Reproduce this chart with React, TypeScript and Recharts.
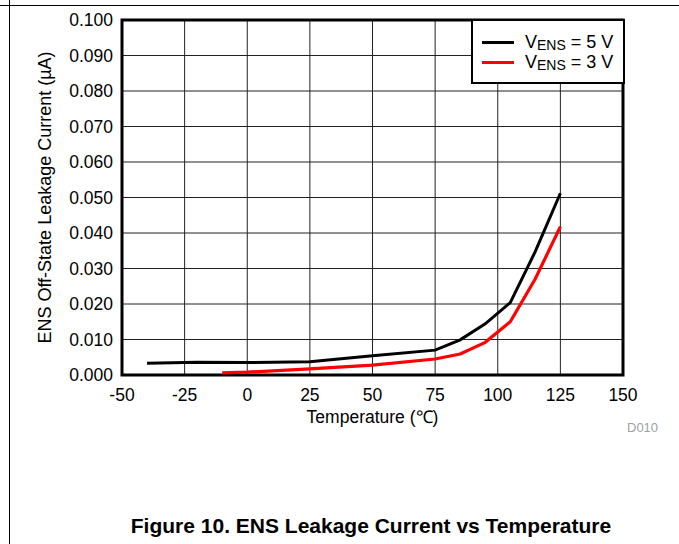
import { LineChart, Line, XAxis, YAxis, CartesianGrid, ReferenceArea } from 'recharts';

// temperature (°C) and leakage current (µA)
const temps5V = [-40, -20, 0, 25, 50, 75, 85, 95, 105, 115, 125];
const leak5V = [0.0033, 0.0036, 0.0035, 0.0037, 0.0054, 0.007, 0.0099, 0.0144, 0.0204, 0.0348, 0.0512];

const temps3V = [-10, 0, 25, 50, 75, 85, 95, 105, 115, 125];
const leak3V = [0.0006, 0.0008, 0.0017, 0.0028, 0.0045, 0.0059, 0.0092, 0.015, 0.0271, 0.0418];

const xTicks = [-50, -25, 0, 25, 50, 75, 100, 125, 150];
const yTicks = [0, 0.01, 0.02, 0.03, 0.04, 0.05, 0.06, 0.07, 0.08, 0.09, 0.1];

const series5V = temps5V.map((t, i) => ({ t, v: leak5V[i] }));
const series3V = temps3V.map((t, i) => ({ t, v: leak3V[i] }));

const FONT = '"Liberation Sans", Arial, sans-serif';

function LegendBox() {
    const row = (color: string, volts: string) => (
        <div style={{ display: 'flex', alignItems: 'center', height: 20 }}>
            <div style={{ width: 32, height: 3, background: color, marginRight: 11 }} />
            <span style={{ fontSize: 18, lineHeight: '20px' }}>
                V<sub style={{ fontSize: 14, verticalAlign: '-2px', lineHeight: 0 }}>ENS</sub> = {volts} V
            </span>
        </div>
    );
    return (
        <div
            style={{
                position: 'absolute',
                left: 471,
                top: 19,
                width: 154,
                height: 65,
                border: '2.5px solid #000',
                background: '#fff',
                boxSizing: 'border-box',
                paddingTop: 11,
                paddingLeft: 9,
                fontFamily: FONT,
                color: '#000',
            }}
        >
            {row('#000', '5')}
            {row('#ff0000', '3')}
        </div>
    );
}

export default function App() {
    return (
        <div style={{ position: 'absolute', left: 0, top: 0, width: 679, height: 544, background: '#fff', fontFamily: FONT }}>
            <div style={{ position: 'absolute', left: 0, top: 5, width: 679, height: 1, background: '#000' }} />
            <div style={{ position: 'absolute', left: 9, top: 0, width: 1, height: 544, background: '#000' }} />

            <LineChart
                width={679}
                height={544}
                margin={{ top: 20, right: 56, left: 30, bottom: 119 }}
                style={{ position: 'absolute', left: 0, top: 0 }}
            >
                <CartesianGrid stroke="#222" strokeWidth={1} />
                <XAxis
                    type="number"
                    dataKey="t"
                    domain={[-50, 150]}
                    ticks={xTicks}
                    allowDataOverflow
                    height={50}
                    tickLine={false}
                    axisLine={false}
                    tickMargin={8}
                    tick={{ fill: '#000', fontSize: 17.5, fontFamily: FONT }}
                    label={{ value: 'Temperature  (℃)', position: 'insideTop', offset: 36, fill: '#000', fontSize: 17.5, fontFamily: FONT }}
                />
                <YAxis
                    type="number"
                    domain={[0, 0.1]}
                    ticks={yTicks}
                    width={92}
                    tickLine={false}
                    axisLine={false}
                    tickMargin={3}
                    tickFormatter={(v: number) => v.toFixed(3)}
                    tick={{ fill: '#000', fontSize: 17.5, fontFamily: FONT }}
                    label={{
                        value: 'ENS Off-State Leakage Current  (µA)',
                        angle: -90,
                        position: 'insideLeft',
                        offset: 15,
                        fill: '#000',
                        fontSize: 18,
                        fontFamily: FONT,
                        style: { textAnchor: 'middle' },
                    }}
                />
                <Line
                    data={series5V}
                    dataKey="v"
                    type="linear"
                    stroke="#000"
                    strokeWidth={3}
                    dot={false}
                    isAnimationActive={false}
                    name="5V"
                />
                <Line
                    data={series3V}
                    dataKey="v"
                    type="linear"
                    stroke="#ff0000"
                    strokeWidth={3.2}
                    dot={false}
                    isAnimationActive={false}
                    name="3V"
                />
                <ReferenceArea x1={-50} x2={150} y1={0} y2={0.1} fill="none" stroke="#000" strokeWidth={3} />
            </LineChart>

            <LegendBox />

            <div style={{ position: 'absolute', left: 627, top: 420, fontSize: 13, color: '#a0a0a0' }}>D010</div>
            <div
                style={{
                    position: 'absolute',
                    left: 371,
                    top: 514,
                    transform: 'translateX(-50%)',
                    whiteSpace: 'nowrap',
                    fontSize: 21,
                    fontWeight: 'bold',
                    color: '#000',
                }}
            >
                Figure 10. ENS Leakage Current vs Temperature
            </div>
        </div>
    );
}
